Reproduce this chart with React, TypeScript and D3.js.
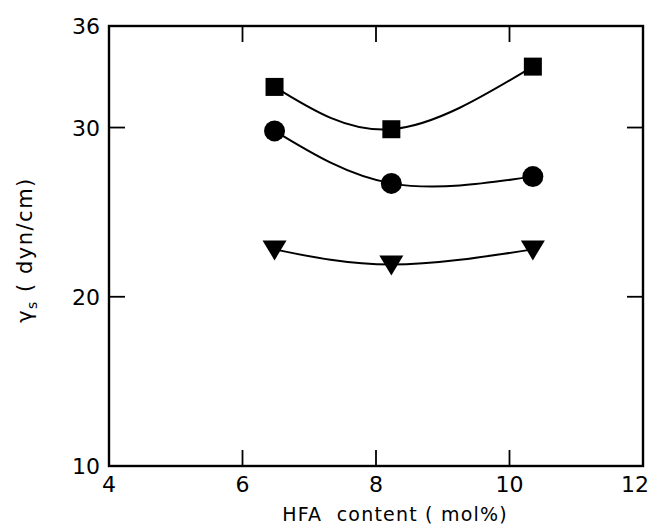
import React from 'react';
import * as d3 from 'd3';

// HFA content (mol%)
const hfa = [6.48, 8.23, 10.35];
// surface free energy series (dyn/cm)
const squareVals = [32.4, 29.9, 33.6];
const circleVals = [29.8, 26.7, 27.1];
const triangleVals = [22.8, 21.9, 22.8];

const xTicks = [4, 6, 8, 10, 12];
const yTicks = [10, 20, 30, 36];

const width = 650;
const height = 525;
const margin = { top: 26, right: 7, bottom: 59, left: 109 };

export default function App() {
  const x = d3.scaleLinear()
    .domain([4, 12])
    .range([margin.left, width - margin.right]);
  const y = d3.scaleLinear()
    .domain([10, 36])
    .range([height - margin.bottom, margin.top]);

  const line = d3.line<number>()
    .x((_, i) => x(hfa[i]))
    .y(d => y(d))
    .curve(d3.curveNatural);

  const x0 = x(4), x1 = x(12), y0 = y(10), y1 = y(36);
  const tickLen = 16;
  const font = '"DejaVu Sans", Verdana, sans-serif';

  const sq = 18;
  const tri = (cx: number, cy: number) =>
    `M${cx - 12},${cy - 9}L${cx + 12},${cy - 9}L${cx},${cy + 11}Z`;

  return (
    <svg width={width} height={height} style={{ position: 'absolute', left: 0, top: 0 }}>
      <rect width={width} height={height} fill="#fff" />
      <g stroke="#000" strokeWidth={2.4} fill="none">
        <rect x={x0} y={y1} width={x1 - x0} height={y0 - y1} />
        {[6, 8, 10].map(t => (
          <g key={'xt' + t}>
            <line x1={x(t)} x2={x(t)} y1={y0} y2={y0 - tickLen} strokeWidth={1.8} />
            <line x1={x(t)} x2={x(t)} y1={y1} y2={y1 + tickLen} strokeWidth={1.8} />
          </g>
        ))}
        {[20, 30].map(t => (
          <g key={'yt' + t}>
            <line x1={x0} x2={x0 + tickLen} y1={y(t)} y2={y(t)} strokeWidth={1.8} />
            <line x1={x1} x2={x1 - tickLen} y1={y(t)} y2={y(t)} strokeWidth={1.8} />
          </g>
        ))}
        <path d={line(squareVals) || ''} strokeWidth={2} />
        <path d={line(circleVals) || ''} strokeWidth={2} />
        <path d={line(triangleVals) || ''} strokeWidth={2} />
      </g>

      <g fill="#000">
        {squareVals.map((v, i) => (
          <rect key={'s' + i} x={x(hfa[i]) - sq / 2} y={y(v) - sq / 2} width={sq} height={sq} />
        ))}
        {circleVals.map((v, i) => (
          <circle key={'c' + i} cx={x(hfa[i])} cy={y(v)} r={10.5} />
        ))}
        {triangleVals.map((v, i) => (
          <path key={'t' + i} d={tri(x(hfa[i]), y(v))} />
        ))}
      </g>

      <g fontFamily={font} fontSize={22} fill="#000">
        {xTicks.map(t => (
          <text
            key={'xl' + t}
            x={t === 12 ? width - 1 : x(t)}
            y={y0 + 26}
            textAnchor={t === 12 ? 'end' : 'middle'}
          >
            {t}
          </text>
        ))}
        {yTicks.map(t => (
          <text key={'yl' + t} x={x0 - 9} y={y(t) + 8} textAnchor="end">{t}</text>
        ))}
      </g>

      <text
        x={395}
        y={521}
        textAnchor="middle"
        fontFamily={font}
        fontSize={19}
        letterSpacing={1.2}
        fill="#000"
        style={{ whiteSpace: 'pre' }}
      >
        {'HFA  content ( mol%)'}
      </text>
      <text
        transform={`translate(32,250) rotate(-90)`}
        textAnchor="middle"
        fontFamily={font}
        fontSize={21}
        letterSpacing={1.5}
        fill="#000"
        style={{ whiteSpace: 'pre' }}
      >
        <tspan>γ</tspan>
        <tspan fontSize={14} dy={5}>s</tspan>
        <tspan dy={-5}>{' ( dyn/cm)'}</tspan>
      </text>
    </svg>
  );
}
